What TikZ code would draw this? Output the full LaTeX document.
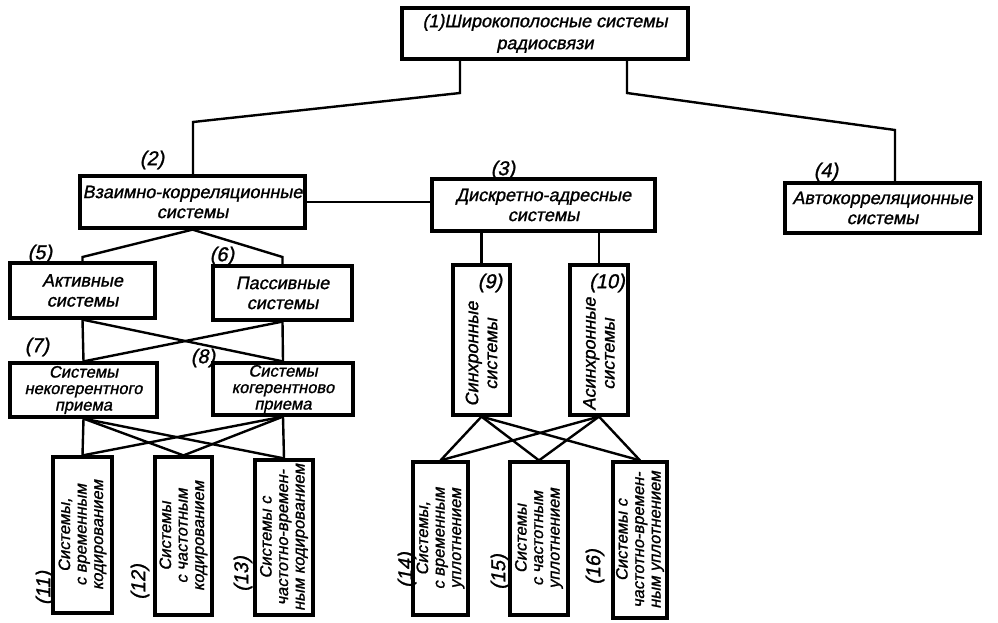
\documentclass[tikz,border=0pt]{standalone}
\usepackage{fontspec}
\setmainfont{Liberation Sans}
\newfontfamily\hand{Liberation Sans}[FakeSlant=0.2, FakeBold=1.2]
\begin{document}
\begin{tikzpicture}[x=1pt,y=-1pt,
  box/.style={draw, line width=3.2pt, inner sep=1pt, align=center,
    font=\fontsize{18}{20}\selectfont\hand},
  tri/.style={font=\fontsize{16.5}{16.5}\selectfont\hand},
  vtext/.style={rotate=90, align=center, inner sep=0pt,
    font=\fontsize{16.5}{16.5}\selectfont\hand},
  num/.style={inner sep=0pt, font=\fontsize{20}{20}\selectfont\hand},
  conn/.style={line width=2.4pt}]
\path[use as bounding box, fill=white] (0,0) rectangle (998,622);

% level boxes
\node[box, minimum width=286pt, minimum height=51pt, font=\fontsize{18}{22}\selectfont\hand] (b1) at (545,33.5) {(1)Широкополосные системы\\радиосвязи};
\node[box, minimum width=225pt, minimum height=52pt] (b2) at (192.5,202) {Взаимно-корреляционные\\системы};
\node[box, minimum width=223pt, minimum height=52pt] (b3) at (543.5,205) {Дискретно-адресные\\системы};
\node[box, minimum width=195pt, minimum height=50pt] (b4) at (882.5,208) {Автокорреляционные\\системы};
\node[box, minimum width=145pt, minimum height=55pt] (b5) at (82.5,290.5) {Активные\\системы};
\node[box, minimum width=139pt, minimum height=54pt] (b6) at (282.5,293) {Пассивные\\системы};
\node[box, tri, minimum width=147pt, minimum height=54pt] (b7) at (83.5,390) {Системы\\некогерентного\\приема};
\node[box, tri, minimum width=140pt, minimum height=52pt] (b8) at (283,389) {Системы\\когерентново\\приема};

% vertical boxes
\node[box, minimum width=57pt, minimum height=150pt] (b9) at (481.5,340) {};
\node[box, minimum width=58pt, minimum height=150pt] (b10) at (599,340) {};
\node[box, minimum width=59pt, minimum height=156pt] (b11) at (82.5,535) {};
\node[box, minimum width=57pt, minimum height=158pt] (b12) at (183.5,536) {};
\node[box, minimum width=58pt, minimum height=155pt] (b13) at (284,537.5) {};
\node[box, minimum width=55pt, minimum height=153pt] (b14) at (440.5,538.5) {};
\node[box, minimum width=58pt, minimum height=153pt] (b15) at (539,538.5) {};
\node[box, minimum width=54pt, minimum height=156pt] (b16) at (640,540) {};

\node[vtext, font=\fontsize{18}{19}\selectfont\hand] (t9) at ([yshift=-14pt]b9.center) {Синхронные\\системы};
\node[vtext, font=\fontsize{18}{19}\selectfont\hand] (t10) at ([yshift=-14pt]b10.center) {Асинхронные\\системы};
\node[vtext] (t11) at (b11) {Системы,\\с временным\\кодированием};
\node[vtext] (t12) at (b12) {Системы\\с частотным\\кодированием};
\node[vtext] (t13) at (b13) {Системы с\\частотно-времен-\\ным кодированием};
\node[vtext] (t14) at (b14) {Системы,\\с временным\\уплотнением};
\node[vtext] (t15) at (b15) {Системы\\с частотным\\уплотнением};
\node[vtext] (t16) at (b16) {Системы с\\частотно-времен-\\ным уплотнением};

% number labels
\node[num] (n2) at (152,160) {(2)};
\node[num] (n3) at (503,170) {(3)};
\node[num] (n4) at (826,172) {(4)};
\node[num] (n5) at (40,254) {(5)};
\node[num] (n6) at (222,256) {(6)};
\node[num] (n7) at (37,347) {(7)};
\node[num] (n8) at (203,358) {(8)};
\node[num] (n9) at (490,283) {(9)};
\node[num] (n10) at (607,283) {(10)};
\node[num, rotate=90] (n11) at (45,588) {(11)};
\node[num, rotate=90] (n12) at (140,582) {(12)};
\node[num, rotate=90] (n13) at (243,574) {(13)};
\node[num, rotate=90] (n14) at (407,570) {(14)};
\node[num, rotate=90] (n15) at (500,572) {(15)};
\node[num, rotate=90] (n16) at (595,567) {(16)};

% connectors
\coordinate (k1) at (460,93);
\coordinate (k2) at (193,122);
\coordinate (k3) at (627,93);
\coordinate (k4) at (895,130);
\draw[conn] (k1 |- b1.south) -- (k1) -- (k2) -- (k2 |- b2.north);
\draw[conn] (k3 |- b1.south) -- (k3) -- (k4) -- (k4 |- b4.north);
\draw[conn] (b2.east) -- (b2.east -| b3.west);

\coordinate (k5) at (82.5,257);
\coordinate (k6) at (282.5,257);
\draw[conn] (b2.south) -- (k5) -- (b5.north);
\draw[conn] (b2.south) -- (k6) -- (b6.north);

\draw[conn] (b5.south) -- (b7.north);
\draw[conn] (b6.south) -- (b8.north);
\draw[conn] (b5.south) -- (b8.north);
\draw[conn] (b6.south) -- (b7.north);

\foreach \a in {b7,b8}
  \foreach \b in {b11,b12,b13}
    \draw[conn] (\a.south) -- (\b.north);

\draw[conn] (b9.north) -- (b9.north |- b3.south);
\draw[conn] (b10.north) -- (b10.north |- b3.south);

\foreach \a in {b9,b10}
  \foreach \b in {b14,b15,b16}
    \draw[conn] (\a.south) -- (\b.north);
\end{tikzpicture}
\end{document}
